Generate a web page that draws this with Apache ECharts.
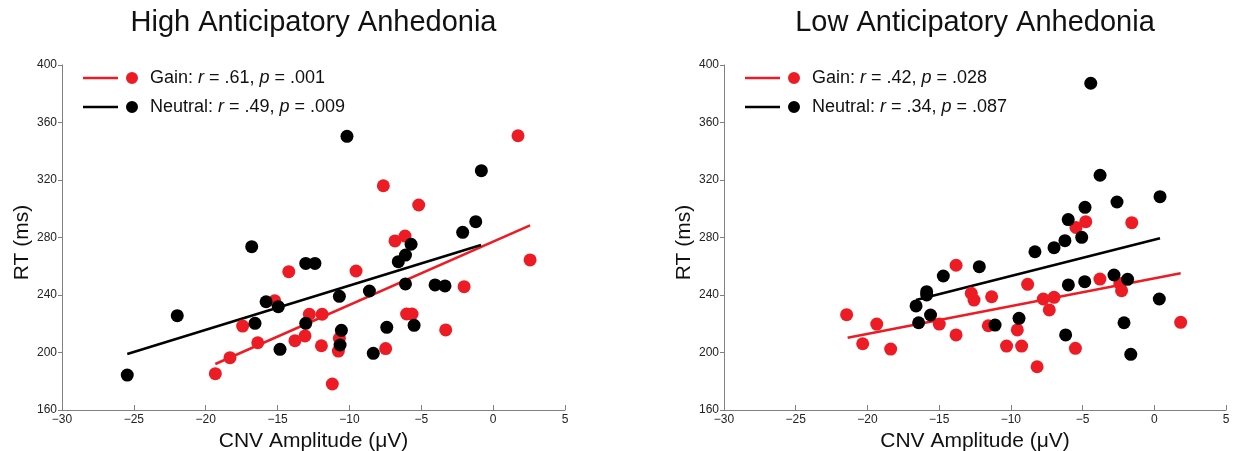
<!DOCTYPE html>
<html>
<head>
<meta charset="utf-8">
<script src="https://cdn.jsdelivr.net/npm/echarts@6/dist/echarts.min.js"></script>
<style>
  html, body { margin: 0; padding: 0; background: #fff; }
  #main { width: 1236px; height: 451px; }
</style>
</head>
<body>
<div id="main"></div>
<script>
// values: [CNV amplitude (µV), RT (ms)]
var highGain = [
  [-19.33, 185.3], [-18.31, 196.4], [-17.43, 218.4], [-16.38, 206.8], [-15.2, 236],
  [-14.22, 256.2], [-13.79, 208.2], [-13.09, 211.5], [-12.79, 226.6], [-11.95, 204.7],
  [-11.9, 226.6], [-11.19, 178.1], [-10.77, 201], [-10.7, 209.9], [-9.54, 256.7],
  [-7.64, 316], [-7.48, 202.7], [-6.83, 277.6], [-6.13, 281], [-6.02, 226.8],
  [-5.64, 226.8], [-5.18, 302.6], [-3.3, 215.7], [-2.02, 245.8], [1.73, 350.8],
  [2.57, 264.4]
];
var highNeutral = [
  [-25.46, 184.3], [-21.98, 225.6], [-16.8, 273.6], [-16.57, 220.3], [-15.8, 235.3],
  [-14.95, 231.9], [-14.83, 202.2], [-13.04, 262], [-12.4, 262], [-13.04, 220.3],
  [-10.7, 239.1], [-10.56, 215.4], [-10.65, 205.2], [-10.17, 350.4], [-8.61, 242.8],
  [-8.34, 199.4], [-7.4, 217.5], [-6.6, 263.2], [-6.1, 267.8], [-6.1, 247.7],
  [-5.71, 275.3], [-5.5, 218.9], [-4.04, 247], [-3.35, 246.3], [-2.12, 283.6],
  [-1.21, 291], [-0.82, 326.5]
];
var lowGain = [
  [-21.45, 226.3], [-20.33, 206.1], [-19.35, 219.8], [-18.38, 202.4], [-14.99, 219.8],
  [-13.82, 260.7], [-13.82, 212.2], [-12.76, 241.2], [-12.57, 236.5], [-11.57, 218.6],
  [-11.34, 238.8], [-10.3, 204.5], [-9.55, 215.7], [-9.25, 204.5], [-8.83, 247.4],
  [-8.17, 190.1], [-7.74, 237.2], [-7.32, 229.6], [-6.99, 238.4], [-5.5, 202.9],
  [-5.46, 287], [-4.78, 291], [-3.79, 251.1], [-2.4, 248], [-2.28, 243],
  [-1.57, 290.3], [1.84, 221]
];
var lowNeutral = [
  [-16.61, 232.4], [-16.43, 220.7], [-15.87, 242.3], [-15.87, 240], [-15.6, 226.1],
  [-14.71, 253.2], [-12.2, 259.7], [-11.1, 219.1], [-9.43, 223.8], [-8.32, 270.1],
  [-6.99, 272.9], [-6.23, 277.8], [-6.18, 212.2], [-6.0, 292.5], [-5.99, 247],
  [-5.06, 280.1], [-4.85, 249.3], [-4.83, 301], [-4.43, 387.3], [-3.78, 323.3],
  [-2.81, 253.9], [-2.6, 304.7], [-2.11, 220.7], [-1.86, 250.9], [-1.64, 198.7],
  [0.35, 237.2], [0.4, 308.4]
];
// fitted line end points
var highGainFit = [[-19.33, 192], [2.57, 288.5]];
var highNeutralFit = [[-25.46, 199], [-0.84, 274.8]];
var lowGainFit = [[-21.38, 210.3], [1.84, 255.1]];
var lowNeutralFit = [[-16.61, 236.5], [0.4, 279.5]];

var titles = ['High Anticipatory Anhedonia', 'Low Anticipatory Anhedonia'];
var stats = {
  hiGain: ['Gain: ', '.61', '.001'],
  hiNeutral: ['Neutral: ', '.49', '.009'],
  loGain: ['Gain: ', '.42', '.028'],
  loNeutral: ['Neutral: ', '.34', '.087']
};

var RED = '#ed1c24';
var BLACK = '#000';
var FONT = 'Liberation Sans, Arial, sans-serif';
var grids = [
  { left: 62, top: 65, width: 503, height: 345, outerBoundsMode: 'none', containLabel: false },
  { left: 724, top: 65, width: 502, height: 345, outerBoundsMode: 'none', containLabel: false }
];
var centers = [313.5, 975];

function minus(v) { return String(v).replace('-', '\u2212'); }

function xAxisFor(i) {
  return {
    gridIndex: i, type: 'value', min: -30, max: 5, interval: 5,
    name: 'CNV Amplitude (\u03bcV)', nameLocation: 'middle', nameGap: 18,
    nameTextStyle: { fontSize: 21, color: '#111', fontFamily: FONT },
    axisLine: { onZero: false, lineStyle: { color: '#808080', width: 1 } },
    axisTick: { inside: true, length: 5, lineStyle: { color: '#808080' } },
    axisLabel: { fontSize: 12, color: '#222', margin: 4, fontFamily: FONT, formatter: minus },
    splitLine: { show: false }
  };
}
function yAxisFor(i) {
  return {
    gridIndex: i, type: 'value', min: 160, max: 400, interval: 40,
    name: 'RT (ms)', nameLocation: 'middle', nameGap: 27,
    nameTextStyle: { fontSize: 21, color: '#111', fontFamily: FONT, padding: [0, 10, 0, 0] },
    axisLine: { show: true, onZero: false, lineStyle: { color: '#808080', width: 1 } },
    axisTick: { show: true, length: 4, lineStyle: { color: '#808080' } },
    axisLabel: { fontSize: 12, color: '#222', margin: 5, fontFamily: FONT },
    splitLine: { show: false }
  };
}
function fitLine(i, data, color) {
  return {
    type: 'line', xAxisIndex: i, yAxisIndex: i, data: data, showSymbol: false, symbol: 'none',
    lineStyle: { color: color, width: 2.5 }, silent: true, z: 1
  };
}
function dots(i, name, data, color, z) {
  return {
    type: 'scatter', name: name, xAxisIndex: i, yAxisIndex: i, data: data,
    symbolSize: 13, itemStyle: { color: color, opacity: 1 }, z: z
  };
}
function legendFor(i, names) {
  return {
    orient: 'vertical', left: grids[i].left + 16, top: 64, itemGap: 11,
    itemWidth: 55, itemHeight: 12,
    icon: 'path://M0,4.75H35V7.25H0Z M43,6A6,6 0 1 0 55,6A6,6 0 1 0 43,6Z',
    data: names, selectedMode: false,
    formatter: function (n) {
      var s = stats[n];
      return '{a|' + s[0] + '}{i|r}{n| = ' + s[1] + ', }{i|p}{n| = ' + s[2] + '}';
    },
    textStyle: {
      fontFamily: FONT, fontSize: 18, color: '#111',
      rich: {
        a: { fontSize: 18, color: '#111', fontFamily: FONT, lineHeight: 20, padding: [0, 0, 0, 7] },
        n: { fontSize: 18, color: '#111', fontFamily: FONT, lineHeight: 20 },
        i: { fontSize: 18, color: '#111', fontFamily: FONT, lineHeight: 20, fontStyle: 'italic' }
      }
    }
  };
}

var chart = echarts.init(document.getElementById('main'));
chart.setOption({
  backgroundColor: '#fff',
  animation: false,
  title: titles.map(function (t, i) {
    return {
      text: t, left: centers[i], top: 8, textAlign: 'center', padding: 0,
      textStyle: { fontSize: 29, fontWeight: 'normal', color: '#111', fontFamily: FONT }
    };
  }),
  legend: [legendFor(0, ['hiGain', 'hiNeutral']), legendFor(1, ['loGain', 'loNeutral'])],
  grid: grids,
  xAxis: [xAxisFor(0), xAxisFor(1)],
  yAxis: [yAxisFor(0), yAxisFor(1)],
  series: [
    fitLine(0, highGainFit, RED),
    fitLine(0, highNeutralFit, BLACK),
    fitLine(1, lowGainFit, RED),
    fitLine(1, lowNeutralFit, BLACK),
    dots(0, 'hiGain', highGain, RED, 2),
    dots(0, 'hiNeutral', highNeutral, BLACK, 3),
    dots(1, 'loGain', lowGain, RED, 2),
    dots(1, 'loNeutral', lowNeutral, BLACK, 3)
  ]
});
</script>
</body>
</html>
